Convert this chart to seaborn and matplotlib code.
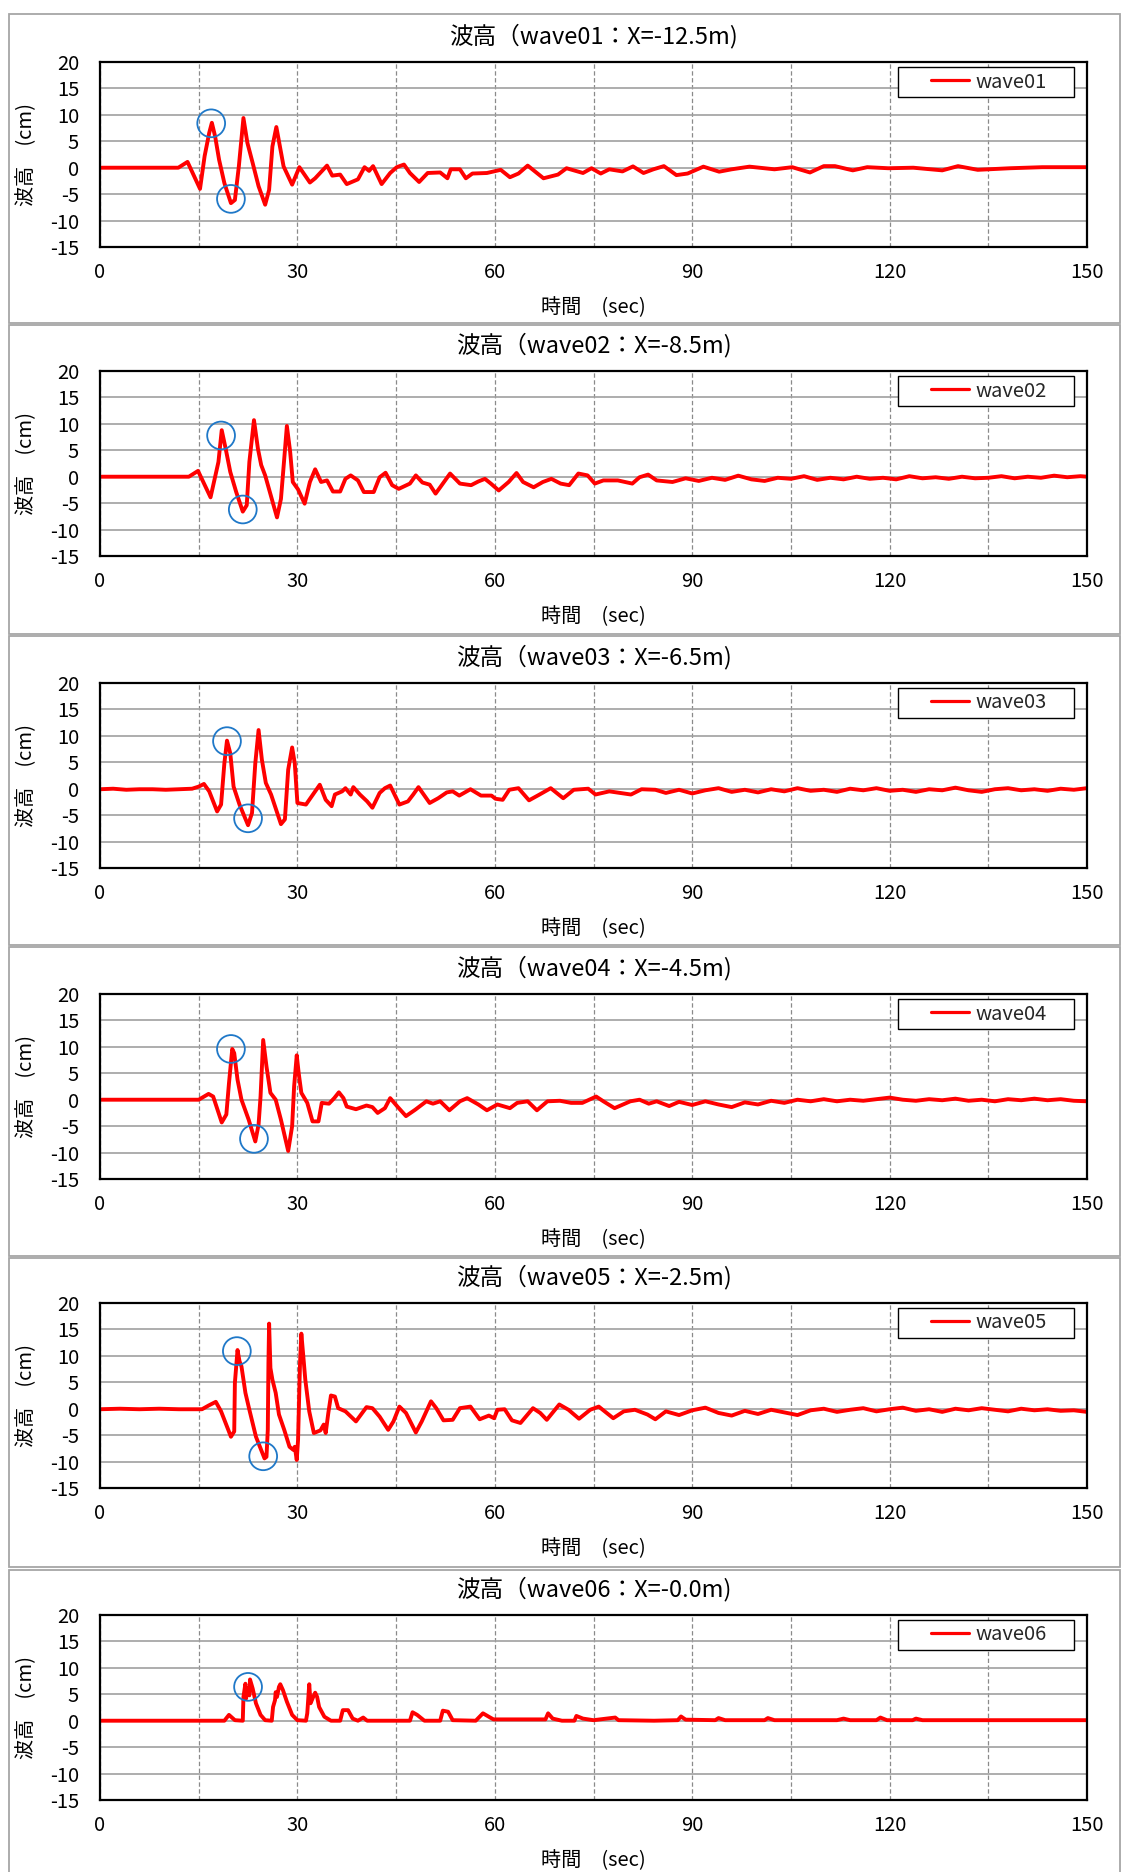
import matplotlib
matplotlib.use("Agg")
import matplotlib.pyplot as plt
import pandas as pd
import seaborn as sns
from matplotlib.patches import Rectangle
from matplotlib.lines import Line2D

# ---------------- data (time [sec], wave height [cm]) ----------------
wave01 = [(0, 0), (11.9, 0), (13.3, 1.1), (15.2, -4.0), (15.9, 2.2), (16.6, 6.6), (17.0, 8.5),
          (17.5, 5.9), (18.1, 1.5), (18.9, -2.9), (19.9, -6.7), (20.5, -6.1), (21.1, 0.25),
          (21.8, 9.4), (22.4, 4.7), (23.2, 0.9), (24.1, -3.5), (25.1, -7.0), (25.7, -4.2),
          (26.2, 4.0), (26.8, 7.7), (27.9, 0.25), (29.2, -3.2), (30.3, 0.1), (31.9, -2.8),
          (32.7, -2.0), (34.5, 0.4), (35.3, -1.5), (36.5, -1.3), (37.5, -3.1), (39.2, -2.2),
          (40.2, 0.1), (40.9, -0.6), (41.5, 0.3), (42.8, -3.1), (44.1, -1.0), (45.1, 0.1),
          (46.2, 0.6), (47.1, -1.0), (48.5, -2.7), (49.8, -1.0), (51.7, -0.9), (52.8, -2.0),
          (53.3, -0.3), (54.7, -0.3), (55.6, -2.0), (56.6, -1.1), (58.8, -1.0), (60.9, -0.4),
          (62.3, -1.8), (63.6, -1.1), (65.0, 0.4), (67.4, -2.0), (69.6, -1.3), (70.9, -0.1),
          (73.4, -1.0), (74.7, -0.1), (76.1, -1.1), (77.4, -0.3), (79.4, -0.7), (81.0, 0.25),
          (82.6, -1.0), (84.1, -0.3), (85.7, 0.3), (87.6, -1.4), (89.3, -1.1), (91.7, 0.2),
          (94.1, -0.75), (96.0, -0.3), (98.7, 0.2), (102.5, -0.3), (105.2, 0.1), (107.9, -0.9),
          (110.0, 0.3), (111.7, 0.3), (114.4, -0.5), (116.6, 0.1), (119.8, -0.1), (123.6, 0.0),
          (128.0, -0.5), (130.4, 0.3), (133.4, -0.4), (138.3, -0.1), (143.2, 0.1), (150, 0.1)]

wave02 = [(0, 0), (13.5, 0), (14.9, 1.1), (16.8, -3.9), (18.0, 2.8), (18.5, 8.8), (19.1, 5.3),
          (19.8, 0.9), (20.7, -2.9), (21.7, -6.6), (22.3, -5.4), (22.7, 2.8), (23.4, 10.7),
          (24.0, 5.3), (24.5, 2.2), (25.1, 0.25), (26.9, -7.7), (27.5, -4.2), (28.0, 3.4),
          (28.4, 9.6), (28.9, 4.7), (29.3, -1.0), (30.1, -2.4), (31.1, -5.1), (31.9, -1.0),
          (32.7, 1.4), (33.6, -1.0), (34.5, -0.7), (35.4, -2.8), (36.5, -2.8), (37.3, -0.4),
          (38.1, 0.25), (39.2, -0.7), (40.1, -2.9), (41.6, -2.9), (42.5, -0.1), (43.4, 0.75),
          (44.4, -1.6), (45.4, -2.3), (47.1, -1.3), (48.0, 0.25), (49.0, -1.1), (50.1, -1.5),
          (51.0, -3.2), (51.7, -2.0), (53.2, 0.6), (54.7, -1.3), (56.4, -1.6), (57.5, -0.9),
          (58.5, -0.4), (59.4, -1.3), (60.6, -2.6), (62.1, -1.0), (63.3, 0.7), (64.3, -1.0),
          (65.9, -2.0), (67.3, -1.0), (68.6, -0.4), (70.0, -1.3), (71.3, -1.6), (72.7, 0.6),
          (74.1, 0.25), (75.2, -1.3), (76.5, -0.7), (78.7, -0.7), (80.9, -1.3), (82.0, -0.1),
          (83.3, 0.4), (84.6, -0.7), (87.0, -1.0), (89.0, -0.3), (91.0, -0.8), (93.0, -0.2),
          (95.0, -0.6), (97.0, 0.2), (99.0, -0.5), (101.0, -0.8), (103.0, -0.2), (105.0, -0.4),
          (107.0, 0.1), (109.0, -0.6), (111.0, -0.2), (113.0, -0.5), (115.0, 0.0), (117.0, -0.4),
          (119.0, -0.2), (121.0, -0.5), (123.0, 0.1), (125.0, -0.3), (127.0, -0.1), (129.0, -0.4),
          (131.0, 0.0), (133.0, -0.3), (135.0, -0.2), (137.0, 0.1), (139.0, -0.3), (141.0, 0.0),
          (143.0, -0.2), (145.0, 0.2), (147.0, -0.1), (149.0, 0.1), (150, 0.0)]

wave03 = [(0, -0.1), (2, 0.0), (4, -0.2), (6, -0.1), (8, -0.1), (10, -0.2), (12, -0.1), (14, 0.0),
          (15.0, 0.4), (15.8, 0.9), (16.6, -0.5), (17.8, -4.3), (18.4, -3.0), (18.9, 4.8),
          (19.3, 9.1), (19.8, 6.7), (20.3, 0.4), (21.2, -3.0), (22.5, -6.9), (23.1, -4.6),
          (23.6, 4.8), (24.1, 11.1), (24.6, 5.5), (25.2, 1.1), (26.0, -1.1), (27.5, -6.7),
          (28.1, -5.8), (28.6, 3.6), (29.2, 7.8), (29.6, 4.8), (30.0, -2.7), (31.3, -3.0),
          (33.4, 0.75), (34.3, -2.1), (35.2, -3.3), (35.7, -1.1), (36.8, -0.5), (37.3, 0.1),
          (38.1, -1.1), (38.5, 0.3), (39.5, -1.1), (40.6, -2.4), (41.4, -3.6), (42.5, -0.8),
          (43.3, 0.1), (44.1, 0.6), (45.5, -3.0), (46.8, -2.4), (47.6, -1.1), (48.4, 0.3),
          (50.1, -2.7), (51.4, -1.8), (52.7, -0.7), (53.6, -0.5), (54.6, -1.3), (56.3, -0.1),
          (57.9, -1.3), (59.5, -1.3), (60.1, -1.9), (61.2, -2.1), (62.2, -0.2), (63.6, 0.1),
          (65.2, -2.2), (66.8, -1.1), (68.5, 0.1), (70.4, -1.8), (72.0, -0.2), (74.2, 0.0),
          (75.3, -1.1), (77.4, -0.5), (80.7, -1.1), (82.3, -0.1), (84.4, -0.2), (86.0, -0.8),
          (88.0, -0.2), (90.0, -0.9), (92.0, -0.3), (94.0, 0.1), (96.0, -0.6), (98.0, -0.2),
          (100.0, -0.7), (102.0, -0.1), (104.0, -0.5), (106.0, 0.1), (108.0, -0.4), (110.0, -0.2),
          (112.0, -0.6), (114.0, 0.0), (116.0, -0.3), (118.0, 0.1), (120.0, -0.4), (122.0, -0.2),
          (124.0, -0.6), (126.0, -0.1), (128.0, -0.3), (130.0, 0.2), (132.0, -0.3), (134.0, -0.6),
          (136.0, -0.1), (138.0, 0.1), (140.0, -0.3), (142.0, -0.1), (144.0, -0.4), (146.0, 0.0),
          (148.0, -0.2), (150, 0.1)]

wave04 = [(0, 0), (15.0, 0), (16.5, 1.1), (17.2, 0.6), (18.5, -4.3), (19.2, -2.8), (19.6, 3.1),
          (20.1, 9.6), (20.4, 8.8), (20.9, 3.8), (21.5, 0.0), (22.6, -3.8), (23.6, -7.9),
          (24.1, -4.7), (24.4, 0.6), (24.8, 11.3), (25.3, 6.3), (25.9, 1.3), (26.7, 0.0),
          (27.5, -3.8), (28.6, -9.7), (29.2, -5.0), (29.5, 2.5), (29.9, 8.4), (30.2, 5.0),
          (30.6, 1.3), (31.5, -0.6), (32.3, -4.1), (33.2, -4.1), (33.7, -0.6), (34.8, -0.75),
          (35.6, 0.3), (36.3, 1.4), (37.0, 0.3), (37.5, -1.3), (38.9, -1.8), (40.5, -1.1),
          (41.4, -1.4), (42.2, -2.5), (43.3, -1.6), (44.1, 0.3), (45.2, -1.3), (46.5, -3.1),
          (47.9, -1.9), (49.6, -0.3), (50.6, -0.75), (51.7, -0.3), (53.1, -2.0), (54.7, -0.3),
          (55.8, 0.3), (57.5, -0.9), (58.8, -2.0), (60.4, -0.9), (62.3, -1.6), (63.4, -0.6),
          (65.0, -0.3), (66.4, -2.0), (68.0, -0.3), (69.9, -0.2), (71.6, -0.6), (73.3, -0.6),
          (75.4, 0.6), (76.5, -0.3), (78.2, -1.6), (80.6, -0.3), (82.0, 0.0), (83.4, -0.75),
          (84.6, -0.3), (86.5, -1.2), (88.0, -0.4), (90.0, -1.0), (92.0, -0.3), (94.0, -0.9),
          (96.0, -1.4), (98.0, -0.5), (100.0, -0.9), (102.0, -0.2), (104.0, -0.6), (106.0, 0.0),
          (108.0, -0.3), (110.0, 0.1), (112.0, -0.3), (114.0, 0.0), (116.0, -0.2), (118.0, 0.1),
          (120.0, 0.4), (122.0, 0.0), (124.0, -0.2), (126.0, 0.1), (128.0, -0.1), (130.0, 0.2),
          (132.0, -0.2), (134.0, 0.0), (136.0, -0.3), (138.0, 0.1), (140.0, -0.1), (142.0, 0.2),
          (144.0, -0.1), (146.0, 0.1), (148.0, -0.2), (150, -0.3)]

wave05 = [(0, -0.1), (3, 0.0), (6, -0.1), (9, 0.0), (12, -0.1), (15.5, -0.1), (16.5, 0.6),
          (17.6, 1.3), (18.4, -0.5), (19.9, -5.3), (20.4, -4.3), (20.5, 4.9), (20.9, 11.1),
          (21.2, 9.0), (21.5, 8.0), (22.1, 3.0), (22.7, -0.2), (23.7, -5.3), (25.0, -9.4),
          (25.3, -9.1), (25.5, -4.0), (25.6, 8.7), (25.7, 16.1), (25.9, 7.7), (26.2, 5.5),
          (26.7, 3.0), (27.2, -1.1), (28.0, -4.0), (28.8, -7.2), (29.4, -7.8), (29.6, -7.2),
          (29.9, -9.7), (30.1, -5.9), (30.4, 8.7), (30.6, 14.2), (30.9, 9.9), (31.2, 5.5),
          (31.8, -0.5), (32.5, -4.6), (33.5, -4.1), (34.0, -3.0), (34.3, -4.6), (34.7, -0.8),
          (35.1, 2.5), (35.7, 2.3), (36.2, 0.1), (37.3, -0.5), (38.9, -2.4), (40.5, 0.3),
          (41.4, 0.1), (42.5, -1.5), (43.8, -4.0), (44.6, -2.4), (45.5, 0.4), (46.5, -0.8),
          (48.0, -4.5), (48.9, -2.4), (50.3, 1.4), (51.1, 0.1), (52.2, -2.2), (53.6, -2.1),
          (54.7, 0.1), (56.3, 0.4), (57.7, -2.0), (59.1, -1.3), (59.9, -1.8), (60.4, -0.2),
          (61.5, -0.1), (62.6, -2.2), (63.9, -2.7), (65.8, 0.1), (66.9, -0.8), (67.9, -2.1),
          (69.8, 0.8), (71.2, -0.2), (72.8, -1.9), (74.5, -0.2), (75.8, 0.4), (78.0, -1.8),
          (79.6, -0.5), (81.3, -0.2), (83.2, -1.1), (84.4, -2.0), (86.0, -0.5), (88.0, -1.2),
          (90.0, -0.3), (92.0, 0.2), (94.0, -0.8), (96.0, -1.3), (98.0, -0.4), (100.0, -1.0),
          (102.0, -0.2), (104.0, -0.7), (106.0, -1.2), (108.0, -0.3), (110.0, 0.0), (112.0, -0.6),
          (114.0, -0.2), (116.0, 0.1), (118.0, -0.5), (120.0, -0.1), (122.0, 0.2), (124.0, -0.4),
          (126.0, -0.1), (128.0, -0.6), (130.0, 0.0), (132.0, -0.3), (134.0, 0.1), (136.0, -0.2),
          (138.0, -0.5), (140.0, 0.0), (142.0, -0.3), (144.0, -0.1), (146.0, -0.4), (148.0, -0.3),
          (150, -0.6)]

wave06 = [(0, 0), (18.9, 0), (19.6, 1.1), (20.5, 0.1), (21.7, 0), (21.8, 4.5), (22.1, 7.0),
          (22.2, 4.2), (22.4, 6.1), (22.7, 4.8), (22.8, 7.8), (23.2, 6.1), (23.7, 3.3),
          (24.4, 1.1), (25.1, 0.1), (26.1, 0), (26.3, 2.6), (26.6, 3.9), (26.7, 5.4), (26.9, 4.5),
          (27.2, 6.4), (27.4, 6.9), (27.8, 5.8), (28.4, 3.6), (29.2, 1.1), (30.0, 0.1), (31.3, 0),
          (31.5, 1.4), (31.8, 6.9), (32.0, 3.3), (32.4, 4.5), (32.7, 5.3), (33.0, 4.5),
          (33.3, 2.6), (34.1, 0.75), (35.1, 0), (36.5, 0), (36.9, 2.0), (37.7, 2.0), (38.4, 0.4),
          (39.2, 0), (40.0, 0.6), (40.6, 0), (47.1, 0), (47.5, 1.6), (48.2, 1.1), (49.3, 0),
          (51.7, 0), (52.1, 1.9), (52.9, 1.7), (53.6, 0.1), (57.1, 0), (58.2, 1.4), (59.3, 0.6),
          (59.8, 0.25), (67.7, 0.25), (68.1, 1.4), (68.8, 0.4), (70.2, 0), (72.1, 0), (72.4, 0.9),
          (73.4, 0.4), (75.0, 0.1), (78.3, 0.6), (78.8, 0.1), (84.2, 0), (87.8, 0.1), (88.3, 0.8),
          (89.0, 0.2), (93.5, 0.1), (94.0, 0.5), (95.0, 0.1), (101.0, 0.1), (101.5, 0.5),
          (102.5, 0.1), (112.0, 0.1), (113.0, 0.4), (114.0, 0.1), (118.0, 0.1), (118.6, 0.6),
          (119.6, 0.1), (123.5, 0.1), (124.0, 0.4), (125.0, 0.1), (150, 0.1)]

series_names = ["wave01", "wave02", "wave03", "wave04", "wave05", "wave06"]
positions = ["-12.5", "-8.5", "-6.5", "-4.5", "-2.5", "-0.0"]
all_series = [wave01, wave02, wave03, wave04, wave05, wave06]

# blue circles marking the first crest / trough of each record
circles01 = [(16.9, 8.4), (19.9, -5.9)]
circles02 = [(18.4, 7.8), (21.7, -6.2)]
circles03 = [(19.3, 9.0), (22.5, -5.6)]
circles04 = [(19.9, 9.6), (23.4, -7.4)]
circles05 = [(20.8, 10.9), (24.8, -9.0)]
circles06 = [(22.5, 6.4)]
all_circles = [circles01, circles02, circles03, circles04, circles05, circles06]

x_ticks = list(range(0, 151, 15))
x_labels = [str(t) if t % 30 == 0 else "" for t in x_ticks]
y_ticks = list(range(-15, 21, 5))

# ---------------- styling ----------------
sns.set_theme(style="white")
plt.rcParams['font.family'] = ['Noto Sans CJK JP', 'DejaVu Sans']
plt.rcParams['axes.unicode_minus'] = False

W, H = 1121, 1872
fig = plt.figure(figsize=(W / 100, H / 100), dpi=100)
fig.patch.set_facecolor("white")

FS = 14.5
ax_left, ax_right = 100, 1087
ax_h = 185
ax_tops = [62, 371, 683, 994, 1303, 1615]
panel_tops = [13.5, 324.5, 636, 947, 1258, 1569.5]

for i, (name, pos, data, circ) in enumerate(zip(series_names, positions, all_series, all_circles)):
    # outer chart-area border
    pt = panel_tops[i]
    fig.add_artist(Rectangle((9 / W, 1 - (pt + 309) / H), (1119.5 - 9) / W, 309 / H,
                             transform=fig.transFigure, fill=False,
                             edgecolor="#a6a6a6", lw=1.3))

    top = ax_tops[i]
    ax = fig.add_axes([ax_left / W, 1 - (top + ax_h) / H, (ax_right - ax_left) / W, ax_h / H])
    df = pd.DataFrame(data, columns=["時間", "波高"])
    sns.lineplot(data=df, x="時間", y="波高", ax=ax, color="#ff0000", lw=2.8,
                 estimator=None, sort=False, zorder=3)

    cdf = pd.DataFrame(circ, columns=["t", "h"])
    ax.scatter(cdf["t"], cdf["h"], s=400, facecolors="none", edgecolors="#1f78c8",
               linewidths=1.3, zorder=4)

    ax.set_xlim(0, 150)
    ax.set_ylim(-15, 20)
    ax.set_xticks(x_ticks)
    ax.set_xticklabels(x_labels)
    ax.set_yticks(y_ticks)
    ax.tick_params(axis="both", length=0, labelsize=FS, colors="black")
    ax.tick_params(axis="y", pad=15)
    ax.tick_params(axis="x", pad=11)

    ax.set_axisbelow(True)
    ax.yaxis.grid(True, color="#a0a0a0", lw=1.2, ls="-")
    ax.xaxis.grid(True, color="#8a8a8a", lw=0.9, ls=(0, (3.5, 2)))
    for sp in ax.spines.values():
        sp.set_color("black")
        sp.set_linewidth(1.6)
        sp.set_zorder(5)

    ax.set_title(f"波高（{name}：X={pos}m)", fontsize=17, y=1 + 26 / ax_h, pad=0,
                 va="center", color="black")
    ax.set_xlabel("時間　(sec)", fontsize=FS, va="center", color="black")
    ax.xaxis.set_label_coords(0.5, -61 / ax_h)
    ax.set_ylabel("波高　(cm)", fontsize=FS, va="center", color="black")
    ax.yaxis.set_label_coords(-73 / (ax_right - ax_left), 0.5)

    # legend box
    aw = ax_right - ax_left
    ax.add_patch(Rectangle(((898 - ax_left) / aw, 1 - 35 / ax_h), 176 / aw, 30 / ax_h,
                           transform=ax.transAxes, facecolor="white", edgecolor="black",
                           lw=1.0, zorder=6))
    handle = Line2D([], [], color="#ff0000", lw=2.3)
    leg = ax.legend([handle], [name], frameon=False, loc="center left",
                    bbox_to_anchor=((931 - ax_left) / aw, 1 - 20 / ax_h),
                    borderpad=0, borderaxespad=0, handlelength=1.9, handletextpad=0.3,
                    fontsize=FS)
    leg.set_zorder(7)

fig.savefig("out.png", dpi=100, facecolor="white")
